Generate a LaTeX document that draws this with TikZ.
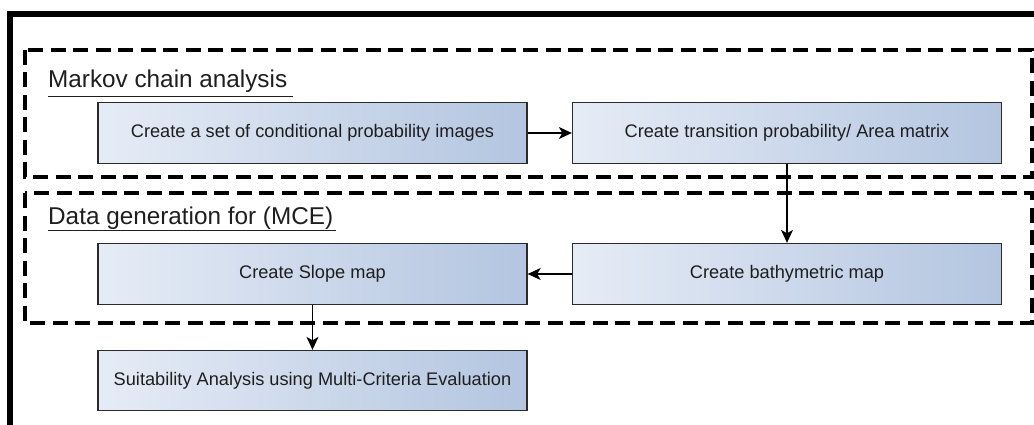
\documentclass[tikz,border=0pt]{standalone}
\usepackage{fontspec}
\setmainfont{Liberation Sans}
\usetikzlibrary{arrows.meta}
\definecolor{boxL}{HTML}{E6ECF6}
\definecolor{boxR}{HTML}{B3C5E0}
\definecolor{edge}{HTML}{2B2B2B}
\definecolor{txt}{HTML}{1E1E1E}
\begin{document}
\begin{tikzpicture}[x=1pt,y=-1pt,
  box/.style={draw=edge, line width=1.3pt, left color=boxL, right color=boxR,
    minimum width=429pt, minimum height=61pt, inner sep=0pt,
    font=\fontsize{18.2}{21}\selectfont, text=txt},
  grp/.style={draw=black, line width=3.2pt, dash pattern=on 15pt off 7.5pt},
  lbl/.style={font=\fontsize{24.3}{28}\selectfont, text=txt, inner sep=0pt},
  ul/.style={draw=txt, line width=1pt},
  arr/.style={draw=black, line width=1.1pt, -{Stealth[length=13pt,width=12pt,inset=3.5pt]}},
  frame/.style={draw=black, line width=5.5pt}]
\useasboundingbox (0,0) rectangle (1034,425);
\begin{scope}
\clip (0,0) rectangle (1034,425);
\draw[frame] (10,460) -- (10,14) -- (1060,14);
\draw[grp] (25,50) rectangle (1032,177);
\draw[grp] (25,193) rectangle (1032,323);
\end{scope}
\node[lbl, anchor=base west] (l1) at (48,88) {Markov chain analysis};
\draw[ul] ([yshift=-9pt]l1.base west) -- ([yshift=-9pt,xshift=6pt]l1.base east);
\node[lbl, anchor=base west] (l2) at (48,224) {Data generation for (MCE)};
\draw[ul] ([yshift=-6pt]l2.base west) -- ([yshift=-6pt,xshift=3pt]l2.base east);
\node[box] (b1) at (312.5,133) {Create a set of conditional probability images};
\node[box] (b2) at (787,133) {Create transition probability/ Area matrix};
\node[box] (b3) at (312.5,274) {Create Slope map};
\node[box] (b4) at (787,274) {Create bathymetric map};
\node[box, minimum height=60pt] (b5) at (312.5,380.5) {Suitability Analysis using Multi-Criteria Evaluation};
\draw[arr] (b1) -- (b2);
\draw[arr] (b2) -- (b4);
\draw[arr] (b4) -- (b3);
\draw[arr] (b3) -- (b5);
\end{tikzpicture}
\end{document}
